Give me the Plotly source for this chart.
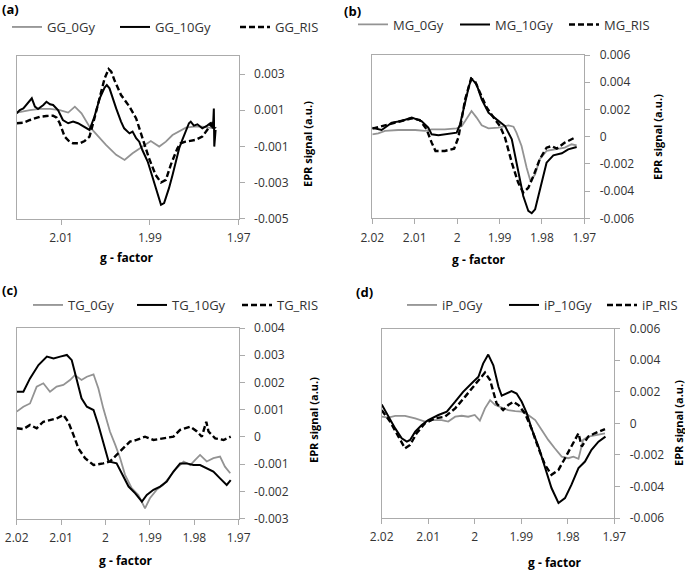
import plotly.graph_objects as go

# ---------------- data (g-factor, EPR signal) ----------------
# Panel (a)
A_g_0 = [2.0200, 2.0185, 2.0170, 2.0148, 2.0125, 2.0103, 2.0084, 2.0069, 2.0054, 2.0036, 2.0017, 1.9999, 1.9976,
         1.9957, 1.9939, 1.9916, 1.9898, 1.9879, 1.9864, 1.9849, 1.9834, 1.9819, 1.9801, 1.9782, 1.9767, 1.9752]
A_v_0 = [0.00087, 0.00096, 0.00101, 0.00107, 0.00107, 0.00101, 0.00087, 0.00120, 0.00083, 0.00009, -0.00046,
         -0.00092, -0.00147, -0.00175, -0.00138, -0.00101, -0.00070, -0.00101, -0.00074, -0.00037, -0.00018,
         0.00004, 0.00009, 0.00009, 0.00004, 0.00000]
A_g_10 = [2.0200, 2.0193, 2.0185, 2.0178, 2.0166, 2.0159, 2.0152, 2.0140, 2.0133, 2.0125, 2.0118, 2.0107, 2.0096,
          2.0084, 2.0073, 2.0062, 2.0055, 2.0043, 2.0036, 2.0025, 2.0013, 2.0002, 1.9997, 1.9991, 1.9984, 1.9976,
          1.9965, 1.9958, 1.9946, 1.9939, 1.9931, 1.9924, 1.9917, 1.9905, 1.9898, 1.9887, 1.9879, 1.9875, 1.9868,
          1.9864, 1.9857, 1.9849, 1.9842, 1.9834, 1.9827, 1.9820, 1.9812, 1.9808, 1.9801, 1.9793, 1.9782, 1.9771,
          1.9764, 1.9758, 1.9756, 1.9755, 1.9752]
A_v_10 = [0.00083, 0.00101, 0.00110, 0.00129, 0.00166, 0.00120, 0.00107, 0.00129, 0.00147, 0.00133, 0.00129,
          0.00101, 0.00046, 0.00028, 0.00037, 0.00028, 0.00018, 0.00000, -0.00009, 0.00064, 0.00166, 0.00225,
          0.00239, 0.00221, 0.00166, 0.00110, 0.00037, 0.00000, -0.00028, -0.00018, -0.00055, -0.00074, -0.00120,
          -0.00184, -0.00239, -0.00331, -0.00386, -0.00423, -0.00414, -0.00386, -0.00331, -0.00258, -0.00184,
          -0.00110, -0.00064, -0.00018, 0.00028, 0.00037, 0.00015, 0.00022, 0.00000, 0.00015, 0.00028, 0.00000,
          0.00110, -0.00101, -0.00009]
A_g_R = [2.0200, 2.0185, 2.0170, 2.0148, 2.0133, 2.0118, 2.0110, 2.0103, 2.0092, 2.0081, 2.0073, 2.0058, 2.0047,
         2.0036, 2.0025, 2.0013, 2.0002, 1.9993, 1.9987, 1.9980, 1.9965, 1.9954, 1.9946, 1.9931, 1.9917, 1.9902,
         1.9887, 1.9875, 1.9864, 1.9853, 1.9838, 1.9831, 1.9820, 1.9797, 1.9782, 1.9767, 1.9760, 1.9752]
A_v_R = [0.00028, 0.00031, 0.00046, 0.00064, 0.00068, 0.00070, 0.00059, 0.00028, -0.00046, -0.00074, -0.00083,
         -0.00083, -0.00070, -0.00046, 0.00055, 0.00166, 0.00276, 0.00328, 0.00313, 0.00267, 0.00184, 0.00147,
         0.00120, 0.00055, -0.00046, -0.00166, -0.00258, -0.00300, -0.00285, -0.00202, -0.00110, -0.00083,
         -0.00074, -0.00064, -0.00046, 0.00009, 0.00028, 0.00000]

# Panel (b)
B_g_0 = [2.0200, 2.0186, 2.0170, 2.0139, 2.0099, 2.0076, 2.0060, 2.0029, 2.0001, 1.9989, 1.9981, 1.9972, 1.9966,
         1.9954, 1.9942, 1.9926, 1.9903, 1.9879, 1.9867, 1.9860, 1.9848, 1.9836, 1.9827, 1.9816, 1.9805, 1.9789,
         1.9769, 1.9746, 1.9730, 1.9718]
B_v_0 = [0.00017, 0.00024, 0.00042, 0.00049, 0.00049, 0.00042, 0.00054, 0.00054, 0.00061, 0.00078, 0.00115,
         0.00164, 0.00188, 0.00140, 0.00083, 0.00061, 0.00066, 0.00083, 0.00073, 0.00029, -0.00069, -0.00228,
         -0.00326, -0.00277, -0.00166, -0.00105, -0.00093, -0.00081, -0.00056, -0.00064]
B_g_10 = [2.0200, 2.0178, 2.0154, 2.0131, 2.0107, 2.0084, 2.0068, 2.0060, 2.0044, 2.0025, 2.0001, 1.9993, 1.9981,
          1.9972, 1.9966, 1.9954, 1.9942, 1.9926, 1.9907, 1.9887, 1.9871, 1.9856, 1.9844, 1.9832, 1.9824, 1.9816,
          1.9805, 1.9789, 1.9773, 1.9753, 1.9738, 1.9718]
B_v_10 = [0.00066, 0.00049, 0.00103, 0.00115, 0.00140, 0.00115, 0.00066, 0.00017, 0.00010, 0.00017, 0.00029,
          0.00091, 0.00262, 0.00372, 0.00426, 0.00384, 0.00274, 0.00176, 0.00127, 0.00078, -0.00020, -0.00264,
          -0.00436, -0.00546, -0.00563, -0.00534, -0.00387, -0.00191, -0.00137, -0.00122, -0.00093, -0.00076]
B_g_R = [2.0200, 2.0170, 2.0139, 2.0107, 2.0088, 2.0072, 2.0060, 2.0051, 2.0029, 2.0007, 1.9997, 1.9981, 1.9967,
         1.9958, 1.9946, 1.9930, 1.9911, 1.9899, 1.9887, 1.9871, 1.9856, 1.9844, 1.9832, 1.9820, 1.9805, 1.9789,
         1.9777, 1.9765, 1.9746, 1.9722]
B_v_R = [0.00059, 0.00083, 0.00108, 0.00135, 0.00122, 0.00054, -0.00044, -0.00105, -0.00105, -0.00088, -0.00007,
         0.00274, 0.00426, 0.00409, 0.00323, 0.00213, 0.00127, 0.00078, -0.00007, -0.00191, -0.00338, -0.00411,
         -0.00375, -0.00289, -0.00166, -0.00081, -0.00069, -0.00088, -0.00044, -0.00007]

# Panel (c)
C_g_0 = [2.0200, 2.0185, 2.0170, 2.0155, 2.0140, 2.0125, 2.0110, 2.0095, 2.0080, 2.0069, 2.0054, 2.0042, 2.0027,
         2.0016, 2.0005, 1.9990, 1.9978, 1.9967, 1.9956, 1.9941, 1.9926, 1.9911, 1.9900, 1.9885, 1.9870, 1.9855,
         1.9840, 1.9824, 1.9809, 1.9798, 1.9787, 1.9772, 1.9757, 1.9742, 1.9731, 1.9719]
C_v_0 = [0.00093, 0.00111, 0.00123, 0.00185, 0.00197, 0.00166, 0.00185, 0.00191, 0.00209, 0.00227, 0.00209,
         0.00221, 0.00230, 0.00178, 0.00105, 0.00020, -0.00029, -0.00078, -0.00139, -0.00188, -0.00213, -0.00262,
         -0.00225, -0.00194, -0.00176, -0.00145, -0.00115, -0.00090, -0.00103, -0.00084, -0.00066, -0.00090,
         -0.00078, -0.00072, -0.00109, -0.00133]
C_g_10 = [2.0200, 2.0185, 2.0170, 2.0151, 2.0132, 2.0117, 2.0102, 2.0087, 2.0076, 2.0065, 2.0054, 2.0042, 2.0027,
          2.0016, 2.0005, 1.9993, 1.9975, 1.9963, 1.9948, 1.9933, 1.9918, 1.9907, 1.9892, 1.9877, 1.9862, 1.9847,
          1.9832, 1.9817, 1.9802, 1.9787, 1.9772, 1.9757, 1.9742, 1.9727, 1.9718]
C_v_10 = [0.00166, 0.00166, 0.00215, 0.00264, 0.00295, 0.00288, 0.00295, 0.00301, 0.00282, 0.00209, 0.00142,
          0.00111, 0.00099, 0.00044, -0.00017, -0.00090, -0.00097, -0.00133, -0.00182, -0.00207, -0.00237,
          -0.00213, -0.00194, -0.00182, -0.00164, -0.00127, -0.00097, -0.00097, -0.00103, -0.00103, -0.00115,
          -0.00127, -0.00152, -0.00176, -0.00158]
C_g_R = [2.0200, 2.0185, 2.0170, 2.0155, 2.0140, 2.0125, 2.0110, 2.0095, 2.0084, 2.0072, 2.0061, 2.0046, 2.0027,
         2.0005, 1.9990, 1.9975, 1.9960, 1.9945, 1.9930, 1.9911, 1.9892, 1.9870, 1.9847, 1.9832, 1.9817, 1.9809,
         1.9794, 1.9783, 1.9773, 1.9768, 1.9753, 1.9734, 1.9718]
C_v_R = [0.00032, 0.00029, 0.00044, 0.00032, 0.00056, 0.00062, 0.00068, 0.00081, 0.00056, 0.00007, -0.00042,
         -0.00078, -0.00103, -0.00097, -0.00090, -0.00066, -0.00042, -0.00017, -0.00011, 0.00001, -0.00011,
         -0.00005, 0.00001, 0.00026, 0.00032, 0.00038, 0.00020, 0.00001, 0.00056, 0.00020, -0.00005, -0.00011,
         0.00001]

# Panel (d)
D_g_0 = [2.0200, 2.0186, 2.0171, 2.0150, 2.0128, 2.0107, 2.0093, 2.0071, 2.0057, 2.0042, 2.0028, 2.0014, 2.0000,
         1.9989, 1.9978, 1.9967, 1.9956, 1.9942, 1.9928, 1.9913, 1.9899, 1.9885, 1.9870, 1.9856, 1.9842, 1.9828,
         1.9813, 1.9799, 1.9788, 1.9777, 1.9767, 1.9756, 1.9742, 1.9720]
D_v_0 = [0.00042, 0.00036, 0.00048, 0.00048, 0.00032, 0.00011, 0.00021, 0.00021, 0.00011, 0.00042, 0.00048,
         0.00042, 0.00053, 0.00017, 0.00095, 0.00147, 0.00116, 0.00099, 0.00084, 0.00078, 0.00074, 0.00053,
         0.00021, -0.00042, -0.00105, -0.00158, -0.00211, -0.00221, -0.00211, -0.00225, -0.00105, -0.00084,
         -0.00074, -0.00063]
D_g_10 = [2.0200, 2.0186, 2.0171, 2.0157, 2.0146, 2.0139, 2.0128, 2.0114, 2.0100, 2.0078, 2.0060, 2.0042, 2.0025,
          2.0007, 1.9992, 1.9982, 1.9971, 1.9960, 1.9949, 1.9942, 1.9931, 1.9921, 1.9910, 1.9899, 1.9888, 1.9878,
          1.9863, 1.9849, 1.9835, 1.9820, 1.9806, 1.9792, 1.9777, 1.9763, 1.9749, 1.9734, 1.9719]
D_v_10 = [0.00120, 0.00042, -0.00032, -0.00095, -0.00116, -0.00105, -0.00053, -0.00011, 0.00021, 0.00053, 0.00074,
          0.00137, 0.00200, 0.00253, 0.00295, 0.00379, 0.00436, 0.00368, 0.00232, 0.00175, 0.00189, 0.00204,
          0.00189, 0.00137, 0.00063, -0.00032, -0.00147, -0.00284, -0.00410, -0.00505, -0.00474, -0.00389,
          -0.00284, -0.00242, -0.00168, -0.00116, -0.00084]
D_g_R = [2.0200, 2.0182, 2.0164, 2.0150, 2.0139, 2.0125, 2.0107, 2.0085, 2.0064, 2.0042, 2.0021, 2.0000, 1.9978,
         1.9967, 1.9953, 1.9939, 1.9928, 1.9917, 1.9906, 1.9892, 1.9878, 1.9863, 1.9849, 1.9835, 1.9820, 1.9806,
         1.9792, 1.9777, 1.9770, 1.9756, 1.9742, 1.9720]
D_v_R = [0.00084, 0.00011, -0.00084, -0.00158, -0.00137, -0.00063, 0.00000, 0.00032, 0.00042, 0.00095, 0.00168,
         0.00242, 0.00322, 0.00274, 0.00126, 0.00084, 0.00116, 0.00137, 0.00116, 0.00063, -0.00032, -0.00158,
         -0.00263, -0.00326, -0.00295, -0.00221, -0.00147, -0.00063, -0.00147, -0.00084, -0.00063, -0.00036]

# series names
A_names = ["GG_0Gy", "GG_10Gy", "GG_RIS"]
B_names = ["MG_0Gy", "MG_10Gy", "MG_RIS"]
C_names = ["TG_0Gy", "TG_10Gy", "TG_RIS"]
D_names = ["iP_0Gy", "iP_10Gy", "iP_RIS"]

# tick labels
A_xticks = [2.01, 1.99, 1.97]
A_xtext = ["2.01", "1.99", "1.97"]
BCD_xticks = [2.02, 2.01, 2.00, 1.99, 1.98, 1.97]
BCD_xtext = ["2.02", "2.01", "2", "1.99", "1.98", "1.97"]
A_yticks = [0.003, 0.001, -0.001, -0.003, -0.005]
A_ytext = ["0.003", "0.001", "-0.001", "-0.003", "-0.005"]
BD_yticks = [0.006, 0.004, 0.002, 0, -0.002, -0.004, -0.006]
BD_ytext = ["0.006", "0.004", "0.002", "0", "-0.002", "-0.004", "-0.006"]
C_yticks = [0.004, 0.003, 0.002, 0.001, 0, -0.001, -0.002, -0.003]
C_ytext = ["0.004", "0.003", "0.002", "0.001", "0", "-0.001", "-0.002", "-0.003"]

# ---------------- figure ----------------
W, H = 685, 571
FONT = "Open Sans"
GRAY = "#939393"
AXC = "#ababab"

fig = go.Figure()

panels = [
    # (gs, vs, names, axis suffix, legend id, legend entry widths)
    ([A_g_0, A_g_10, A_g_R], [A_v_0, A_v_10, A_v_R], A_names, "", "legend", [63, 75, 46]),
    ([B_g_0, B_g_10, B_g_R], [B_v_0, B_v_10, B_v_R], B_names, "2", "legend2", [57, 64, 46]),
    ([C_g_0, C_g_10, C_g_R], [C_v_0, C_v_10, C_v_R], C_names, "3", "legend3", [59, 60, 46]),
    ([D_g_0, D_g_10, D_g_R], [D_v_0, D_v_10, D_v_R], D_names, "4", "legend4", [57, 53, 36]),
]
styles = [dict(color=GRAY, width=1.8), dict(color="black", width=2.0), dict(color="black", width=2.4, dash="6px,3px")]

for gs, vs, names, sfx, lg, lws in panels:
    for g, v, nm, st, lw in zip(gs, vs, names, styles, lws):
        fig.add_trace(go.Scatter(x=g, y=v, mode="lines", name=nm, line=st, legendwidth=lw,
                                 xaxis="x" + sfx, yaxis="y" + sfx, legend=lg))


def px_x(p):
    return p / W


def px_y(p):
    return 1 - p / H


def xax(dom, tv, tt, anchor):
    return dict(domain=dom, range=[2.02, 1.97], tickvals=tv, ticktext=tt, anchor=anchor,
                showline=True, mirror=True, linecolor=AXC, linewidth=1, ticks="outside", ticklen=5,
                tickcolor=AXC, showgrid=False, zeroline=False, ticklabelstandoff=3,
                tickfont=dict(family=FONT, size=12, color="#333"))


def yax(dom, rng, tv, tt, anchor):
    return dict(domain=dom, range=rng, tickvals=tv, ticktext=tt, anchor=anchor, side="right",
                showline=True, mirror=True, linecolor=AXC, linewidth=1, ticks="outside", ticklen=5,
                tickcolor=AXC, showgrid=False, zeroline=False, ticklabelstandoff=7,
                tickfont=dict(family=FONT, size=12, color="#333"))


xa = [px_x(16.7), px_x(238.7)]
xb = [px_x(372.3), px_x(584.3)]
xc = [px_x(16.7), px_x(238.7)]
xd = [px_x(381.7), px_x(614.3)]
ya = [px_y(218.7), px_y(56)]
yb = [px_y(218.3), px_y(55)]
yc = [px_y(518.7), px_y(328)]
yd = [px_y(518), px_y(328.7)]

leg_common = dict(orientation="h", xanchor="left", yanchor="middle", bgcolor="rgba(0,0,0,0)",
                  font=dict(family=FONT, size=13, color="#333"), entrywidthmode="pixels",
                  itemclick=False, itemdoubleclick=False)

fig.update_layout(
    width=W, height=H, margin=dict(l=0, r=0, t=0, b=0, autoexpand=False),
    paper_bgcolor="white", plot_bgcolor="white",
    font=dict(family=FONT, size=12, color="#333"),
    xaxis=xax(xa, A_xticks, A_xtext, "y"),
    yaxis=yax(ya, [-0.005, 0.004], A_yticks, A_ytext, "x"),
    xaxis2=xax(xb, BCD_xticks, BCD_xtext, "y2"),
    yaxis2=yax(yb, [-0.006, 0.006], BD_yticks, BD_ytext, "x2"),
    xaxis3=xax(xc, BCD_xticks, BCD_xtext, "y3"),
    yaxis3=yax(yc, [-0.003, 0.004], C_yticks, C_ytext, "x3"),
    xaxis4=xax(xd, BCD_xticks, BCD_xtext, "y4"),
    yaxis4=yax(yd, [-0.006, 0.006], BD_yticks, BD_ytext, "x4"),
    legend=dict(x=px_x(7), y=px_y(27), **leg_common),
    legend2=dict(x=px_x(353), y=px_y(24.5), **leg_common),
    legend3=dict(x=px_x(28), y=px_y(305), **leg_common),
    legend4=dict(x=px_x(402), y=px_y(305), **leg_common),
    showlegend=True,
)

ann = []
# panel labels
for txt, x, y in [("(a)", 0, 9.5), ("(b)", 342, 11), ("(c)", 0, 290), ("(d)", 354, 292)]:
    ann.append(dict(text="<b>%s</b>" % txt, x=px_x(x), y=px_y(y), xref="paper", yref="paper",
                    xanchor="left", yanchor="middle", showarrow=False,
                    font=dict(family=FONT, size=13, color="black")))
# y-axis titles
for x, y in [(307, 144), (657, 137), (313, 420), (678, 423)]:
    ann.append(dict(text="<b>EPR signal (a.u.)</b>", x=px_x(x), y=px_y(y), xref="paper", yref="paper",
                    xanchor="center", yanchor="middle", textangle=-90, showarrow=False,
                    font=dict(family=FONT, size=11, color="black")))
# x-axis titles
for x, y in [(127, 257), (479, 260), (126, 560), (555, 562)]:
    ann.append(dict(text="<b>g - factor</b>", x=px_x(x), y=px_y(y), xref="paper", yref="paper",
                    xanchor="center", yanchor="middle", showarrow=False,
                    font=dict(family=FONT, size=12, color="black")))
fig.update_layout(annotations=ann)

# remove the default page margin so the figure fills the browser window exactly
fig.write_html("out.html", config={"displayModeBar": False},
               post_script="document.body.style.margin='0';document.body.style.overflow='hidden';")
